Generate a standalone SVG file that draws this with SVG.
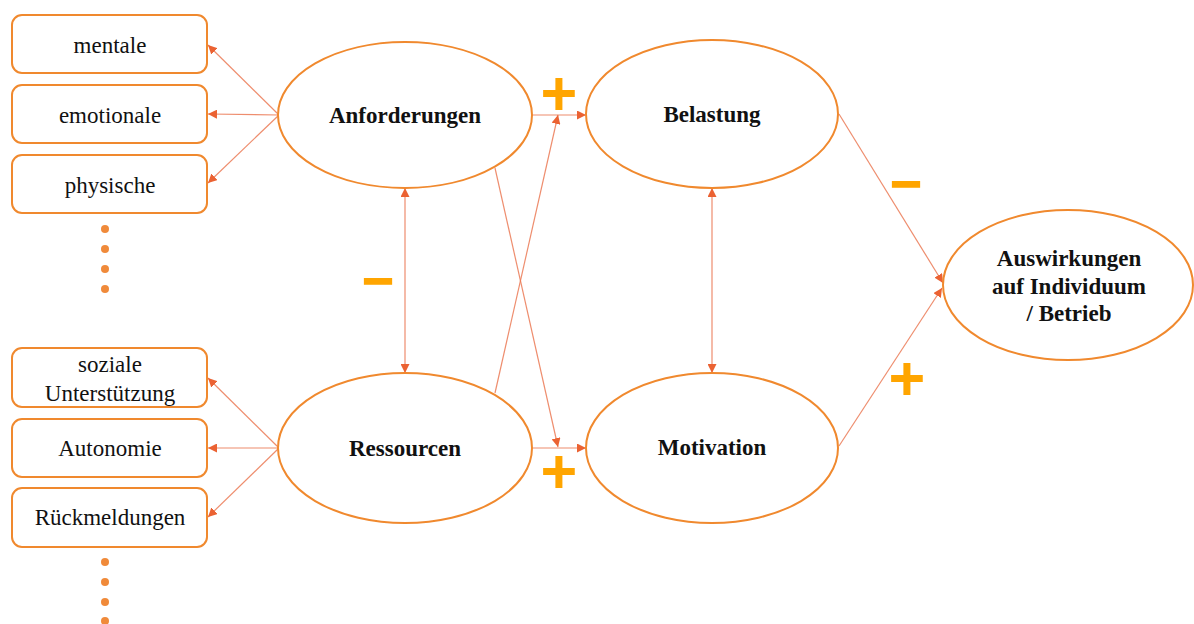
<svg xmlns="http://www.w3.org/2000/svg" width="1194" height="624" viewBox="0 0 1194 624">
<style>
.box{fill:#fff;stroke:#F0892E;stroke-width:2}
.ell{fill:#fff;stroke:#F0892E;stroke-width:2}
.t{font-family:"Liberation Serif","Times New Roman",serif;font-size:23px;fill:#111;text-anchor:middle}
.b{font-family:"Liberation Serif","Times New Roman",serif;font-size:23px;font-weight:bold;fill:#111;text-anchor:middle}
.c{fill:none;stroke:#EC7A55;stroke-width:1.2;opacity:0.85}
.ar{marker-end:url(#ah)}
.dbl{marker-end:url(#ah);marker-start:url(#ahs)}
.sign{font-family:"Liberation Sans",Arial,sans-serif;font-weight:bold;fill:#FFA500;text-anchor:middle}
.dot{fill:#F08A3A}
</style>
<defs>
<marker id="ah" viewBox="0 0 10 10" refX="10" refY="5" markerWidth="9" markerHeight="9" markerUnits="userSpaceOnUse" orient="auto">
<path d="M0,0 L10,5 L0,10 z" fill="#E8470F"/>
</marker>
<marker id="ahs" viewBox="0 0 10 10" refX="10" refY="5" markerWidth="9" markerHeight="9" markerUnits="userSpaceOnUse" orient="auto-start-reverse">
<path d="M0,0 L10,5 L0,10 z" fill="#E8470F"/>
</marker>
</defs>

<g id="connectors">
<line class="c ar" x1="279" y1="115" x2="208" y2="45"/>
<line class="c ar" x1="279" y1="115" x2="208" y2="114"/>
<line class="c ar" x1="279" y1="115" x2="208" y2="183"/>
<line class="c ar" x1="279" y1="448" x2="208" y2="378"/>
<line class="c ar" x1="279" y1="448" x2="208" y2="448"/>
<line class="c ar" x1="279" y1="448" x2="208" y2="517"/>
<line class="c ar" x1="532" y1="115" x2="586" y2="115"/>
<line class="c ar" x1="532" y1="448" x2="586" y2="448"/>
<line class="c ar" x1="495" y1="168" x2="558" y2="447"/>
<line class="c ar" x1="495" y1="393" x2="558" y2="115"/>
<line class="c dbl" x1="405" y1="373" x2="405" y2="188"/>
<line class="c dbl" x1="712" y1="373" x2="712" y2="188"/>
<line class="c ar" x1="839" y1="114" x2="943" y2="283"/>
<line class="c ar" x1="839" y1="446" x2="942" y2="288"/>
</g>

<g id="node-mentale"><rect class="box" x="12" y="15" width="195" height="58" rx="10"/><text class="t" x="110" y="53">mentale</text></g>
<g id="node-emotionale"><rect class="box" x="12" y="85" width="195" height="58" rx="10"/><text class="t" x="110" y="123">emotionale</text></g>
<g id="node-physische"><rect class="box" x="12" y="155" width="195" height="58" rx="10"/><text class="t" x="110" y="193">physische</text></g>
<g id="dots-top"><circle class="dot" cx="105" cy="229" r="4"/><circle class="dot" cx="105" cy="249" r="4"/><circle class="dot" cx="105" cy="269" r="4"/><circle class="dot" cx="105" cy="289" r="4"/></g>

<g id="node-soziale"><rect class="box" x="12" y="348" width="195" height="59" rx="10"/><text class="t" x="110" y="372">soziale</text><text class="t" x="110" y="401">Unterstützung</text></g>
<g id="node-autonomie"><rect class="box" x="12" y="419" width="195" height="58" rx="10"/><text class="t" x="110" y="456">Autonomie</text></g>
<g id="node-rueckmeldungen"><rect class="box" x="12" y="488" width="195" height="59" rx="10"/><text class="t" x="110" y="525">Rückmeldungen</text></g>
<g id="dots-bottom"><circle class="dot" cx="105" cy="562" r="4"/><circle class="dot" cx="105" cy="582" r="4"/><circle class="dot" cx="105" cy="602" r="4"/><circle class="dot" cx="105" cy="621" r="4"/></g>

<g id="node-anforderungen"><ellipse class="ell" cx="405" cy="115" rx="127" ry="73"/><text class="b" x="405" y="123">Anforderungen</text></g>
<g id="node-ressourcen"><ellipse class="ell" cx="405" cy="448" rx="127" ry="75"/><text class="b" x="405" y="456">Ressourcen</text></g>
<g id="node-belastung"><ellipse class="ell" cx="712" cy="114" rx="126" ry="74"/><text class="b" x="712" y="122">Belastung</text></g>
<g id="node-motivation"><ellipse class="ell" cx="712" cy="448" rx="126" ry="75"/><text class="b" x="712" y="455">Motivation</text></g>
<g id="node-auswirkungen"><ellipse class="ell" cx="1068" cy="285" rx="125" ry="75"/><text class="b" x="1069" y="266">Auswirkungen</text><text class="b" x="1069" y="294">auf Individuum</text><text class="b" x="1069" y="321">/ Betrieb</text></g>

<g id="signs">
<text class="sign" x="559" y="115" font-size="63">+</text>
<text class="sign" x="559" y="493" font-size="63">+</text>
<text class="sign" x="907" y="400" font-size="63">+</text>
<text class="sign" x="378" y="296" font-size="54" stroke="#FFA500" stroke-width="1.5">–</text>
<text class="sign" x="906" y="199" font-size="54" stroke="#FFA500" stroke-width="1.5">–</text>
</g>
</svg>
